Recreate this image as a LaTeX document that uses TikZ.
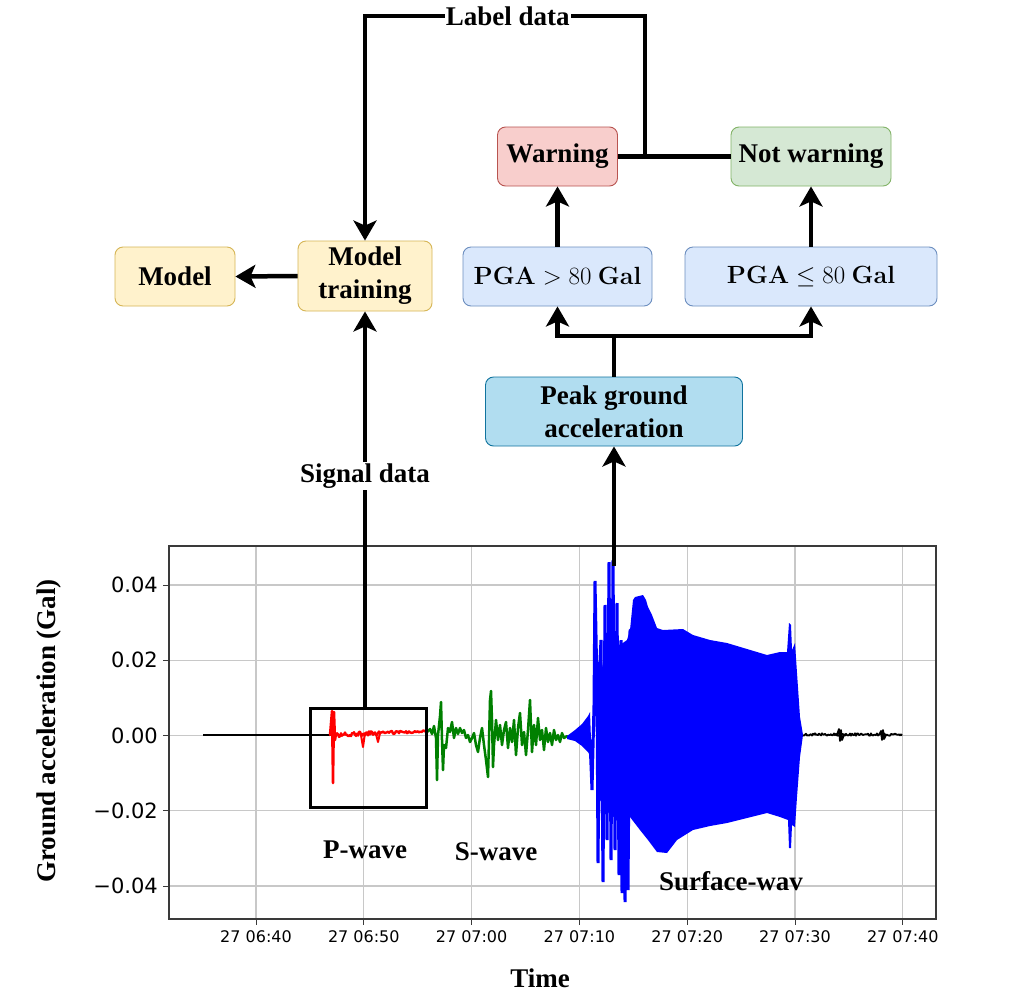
\documentclass[tikz,border=0pt]{standalone}
\usepackage[no-math]{fontspec}
\setmainfont{Liberation Serif}
\newfontfamily\tickfont{DejaVu Sans}
\usetikzlibrary{arrows.meta}
\definecolor{yfill}{HTML}{FFF2CC}\definecolor{ydraw}{HTML}{D6B656}
\definecolor{rfill}{HTML}{F8CECC}\definecolor{rdraw}{HTML}{B85450}
\definecolor{gfill}{HTML}{D5E8D4}\definecolor{gdraw}{HTML}{82B366}
\definecolor{bfill}{HTML}{DAE8FC}\definecolor{bdraw}{HTML}{6C8EBF}
\definecolor{pfill}{HTML}{B1DDF0}\definecolor{pdraw}{HTML}{10739E}
\definecolor{gridc}{HTML}{C8C8C8}\definecolor{framec}{HTML}{3A3A3A}
\definecolor{sgreen}{HTML}{008000}\definecolor{sblue}{HTML}{0000FF}\definecolor{sred}{HTML}{FF0000}
\begin{document}
\begin{tikzpicture}[x=1pt,y=-1pt,
  bigfont/.style={font=\bfseries\fontsize{27}{33}\selectfont},
  box/.style={draw, rounded corners=8pt, line width=0.9pt, align=center, bigfont, inner sep=2pt},
  yellowbox/.style={box, fill=yfill, draw=ydraw},
  redbox/.style={box, fill=rfill, draw=rdraw},
  greenbox/.style={box, fill=gfill, draw=gdraw},
  bluebox/.style={box, fill=bfill, draw=bdraw, font=\fontsize{26}{31}\selectfont},
  pgabox/.style={box, fill=pfill, draw=pdraw},
  conn/.style={line width=4.5pt},
  arr/.style={line width=4.5pt, -{Stealth[length=20pt,width=23pt,inset=5pt]}},
  lbl/.style={fill=white, bigfont, inner sep=1.5pt},
  gridln/.style={draw=gridc, line width=1.1pt},
  tickln/.style={draw=framec, line width=1pt},
  ytick/.style={font=\tickfont\fontsize{21}{25}\selectfont, anchor=east, inner sep=0pt},
  xtick/.style={font=\tickfont\fontsize{16}{19}\selectfont, inner sep=0pt},
  sig/.style={line width=2.5pt, line join=round, line cap=round}
]
\useasboundingbox[fill=white] (0,0) rectangle (1035,1007);

% ---------- grid and ticks ----------
\foreach \gx/\lab [count=\i] in {256/27 06:40,363.8/27 06:50,471.6/27 07:00,579.4/27 07:10,687.2/27 07:20,795/27 07:30,902.8/27 07:40}{
  \draw[gridln] (\gx,546) -- (\gx,919);
  \draw[tickln] (\gx,919) -- (\gx,925);
  \node[xtick] (xl\i) at (\gx,937) {\lab};
}
\foreach \gy/\lab [count=\i] in {585/0.04,660.25/0.02,735.5/0.00,810.75/{−0.02},886/{−0.04}}{
  \draw[gridln] (169,\gy) -- (936,\gy);
  \draw[tickln] (169,\gy) -- (163,\gy);
  \node[ytick] (yl\i) at (158,\gy) {\lab};
}

% ---------- signal ----------
\pgfmathsetseed{7}
% quiet head
\draw[line width=1.6pt] (203,735) -- (331,735);
% P-wave (red)
\draw[sig, sred] (330,735) -- (332,711) -- (333,783) -- (334,712) -- (335,740) -- (336,734);
\draw[sig, sred, line width=2.4pt] plot[domain=336:427, samples=92, variable=\t] (\t,{734.5-0.035*(\t-336)+(2.6-0.018*(\t-336))*rand});
\draw[sig, sred, line width=2pt] (361,735) -- (363,747) -- (365,733) (376,734) -- (378,742) -- (380,733);
% S-wave (green)
\draw[sig, sgreen] (427,732) -- (430,729) -- (432,734) -- (434,726) -- (436,738) -- (437,780) -- (438,735)
  -- (440,716) -- (441,702) -- (442,740) -- (443,770) -- (444,745) -- (446,748) -- (448,728) -- (450,732)
  -- (452,722) -- (454,738) -- (456,728) -- (458,734) -- (460,728) -- (462,733) -- (464,730) -- (466,738)
  -- (468,735) -- (470,742) -- (472,738) -- (474,733) -- (476,745) -- (478,752) -- (480,738) -- (482,728)
  -- (484,745) -- (486,760) -- (488,777) -- (489,740) -- (490,700) -- (491,691) -- (492,720) -- (493,767)
  -- (494,745) -- (496,720) -- (498,740) -- (500,725) -- (502,745) -- (504,730) -- (506,722) -- (508,748)
  -- (510,728) -- (512,742) -- (514,720) -- (516,755) -- (518,728) -- (520,713) -- (522,745) -- (524,732)
  -- (526,755) -- (528,730) -- (530,700) -- (532,752) -- (534,725) -- (536,745) -- (538,718) -- (540,740)
  -- (542,730) -- (544,750) -- (546,728) -- (548,742) -- (550,733) -- (552,745) -- (554,730) -- (556,740)
  -- (558,735) -- (560,742) -- (562,733) -- (564,738) -- (567,736);
% surface wave (blue)
\fill[sblue] (567,736) -- (575,730) -- (582,724) -- (588,716) -- (590,712) -- (591,740) -- (591,758)
  -- (588,752) -- (582,746) -- (575,741) -- (567,739) -- cycle;
\draw[sig, sblue, line width=3pt, line join=miter] (590,740) -- (592,790) -- (594,705) -- (595,581) -- (597,690) -- (598,863)
  -- (600,660) -- (601,640) -- (603,882) -- (605,605) -- (607,840) -- (609,562) -- (611,860) -- (613,560)
  -- (615,850) -- (617,603) -- (619,875) -- (621,640) -- (622,893) -- (624,660) -- (625,902) -- (627,650)
  -- (628,890) -- (630,630);
\fill[sblue] (600,680) -- (605,650) -- (612,640) -- (620,645) -- (627,640) -- (630,630) -- (633,600)
  -- (635,597) -- (643,595) -- (646,600) -- (648,607) -- (652,615) -- (657,628) -- (663,630) -- (683,629)
  -- (693,635) -- (710,640) -- (727,643) -- (747,649) -- (767,655) -- (780,652) -- (787,652) -- (789,623)
  -- (791,625) -- (792,650) -- (795,643) -- (797,673) -- (800,717) -- (803,735)
  -- (800,757) -- (797,797) -- (795,827) -- (792,825) -- (791,848) -- (789,848) -- (788,820) -- (780,817)
  -- (767,813) -- (747,818) -- (727,823) -- (710,826) -- (693,830) -- (677,840) -- (667,853) -- (657,852)
  -- (648,840) -- (640,830) -- (630,817) -- (620,820) -- (610,815) -- (600,800) -- cycle;
% quiet tail (black)
\draw[line width=1.8pt, line join=round] plot[domain=803:902, samples=100, variable=\t] (\t,{734.5+1.2*rand});
\draw[line width=1.8pt, line join=round] (837,735) -- (839,729) -- (840,741) -- (841,730) -- (842,740) -- (844,735)
  (879,735) -- (881,731) -- (882,740) -- (883,730) -- (884,739) -- (886,735);

% ---------- axes frame ----------
\draw[framec, line width=1.3pt] (169,546) rectangle (936,919);
\node[bigfont] (xlabel) at (540,978) {Time};
\node[bigfont, rotate=90] (ylabel) at (49.5,731) {Ground acceleration (Gal)};
\node[bigfont] (pw) at (365,850) {P-wave};
\node[bigfont] (sw) at (496,852) {S-wave};
\node[bigfont] (suw) at (731,881) {Surface-wav};
\node[draw, line width=3pt, minimum width=116pt, minimum height=99pt, inner sep=0pt] (pbox) at (368,757.5) {};

% ---------- flow boxes ----------
\node[yellowbox, minimum width=120pt, minimum height=59pt] (model) at (175,276.5) {Model};
\node[yellowbox, minimum width=134pt, minimum height=70pt] (mt) at (365,276) {Model\\training};
\node[bluebox, minimum width=189pt, minimum height=59pt] (pgagt) at (557.5,276.5) {$\mathbf{PGA} > 80\ \mathbf{Gal}$};
\node[bluebox, minimum width=252pt, minimum height=59pt] (pgale) at (811,276.5) {$\mathbf{PGA} \le 80\ \mathbf{Gal}$};
\node[redbox, minimum width=120pt, minimum height=59pt] (warn) at (557.5,156.5) {Warning};
\node[greenbox, minimum width=160pt, minimum height=59pt] (nw) at (811,156.5) {Not warning};
\node[pgabox, minimum width=257pt, minimum height=69pt] (pga) at (614,411.5) {Peak ground\\acceleration};

% ---------- connectors ----------
\coordinate (peak) at (614,566);
\coordinate (split) at (614,336);
\coordinate (j) at (645,156.5);
\coordinate (tr) at (645,16);
\coordinate (tl) at (365,16);
\draw[arr] (mt.west) -- (model.east);
\draw[arr] (mt.south |- pbox.north) -- node[lbl, pos=0.583] (sd) {Signal data} (mt.south);
\draw[arr] (peak) -- (pga.south);
\draw[conn] (pga.north) -- (split);
\draw[arr] (split) -| (pgagt.south);
\draw[arr] (split) -| (pgale.south);
\draw[arr] (pgagt.north) -- (warn.south);
\draw[arr] (pgale.north) -- (nw.south);
\draw[conn] (warn.east) -- (nw.west);
\draw[arr] (j) -- (tr) -- node[lbl, pos=0.49, inner sep=1pt] (ld) {Label data} (tl) -- (mt.north);
\end{tikzpicture}
\end{document}
